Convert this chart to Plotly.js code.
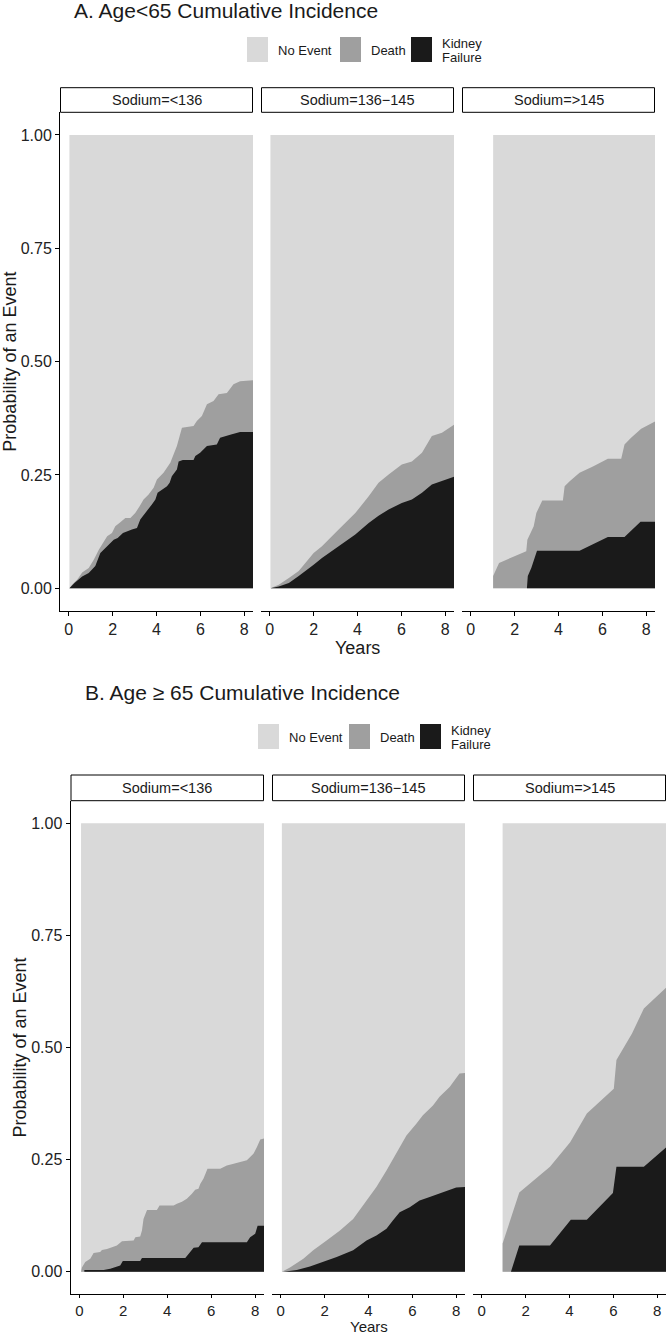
<!DOCTYPE html>
<html>
<head>
<meta charset="utf-8">
<script src="https://cdn.plot.ly/plotly-3.0.1.min.js"></script>
<style>
html,body{margin:0;padding:0;background:#fff;}
#chart{width:666px;height:1334px;}
</style>
</head>
<body>
<div id="chart"></div>
<script>
// ---------- DATA ----------
const figureTitles = ['A. Age<65 Cumulative Incidence', 'B. Age \u2265 65 Cumulative Incidence'];
const sodiumGroups = ['Sodium=<136', 'Sodium=136\u2212145', 'Sodium=>145'];
const eventNames = ['No Event', 'Death', 'Kidney\nFailure'];
const xTickVals = [0, 2, 4, 6, 8];
const yTickVals = [0, 0.25, 0.5, 0.75, 1];
const xAxisTitle = 'Years';
const yAxisTitle = 'Probability of an Event';

// Panel A1: Age<65, Sodium <136  (any event = death + kidney failure, stacked top)
const a1AnyTime = [0.03,0.15,0.38,0.61,0.91,1.14,1.37,1.59,1.75,1.97,2.12,2.35,2.58,2.81,3.03,3.23,3.41,3.64,3.87,4.02,4.32,4.63,4.78,4.93,5.16,5.69,5.84,6.07,6.30,6.60,6.83,7.21,7.51,7.81,8.40];
const a1Any     = [0,0.008,0.019,0.035,0.045,0.063,0.085,0.104,0.115,0.122,0.137,0.146,0.155,0.155,0.166,0.181,0.196,0.207,0.222,0.240,0.255,0.277,0.295,0.314,0.354,0.358,0.369,0.380,0.406,0.413,0.428,0.431,0.450,0.457,0.459];
const a1KfTime  = [0.03,0.26,0.61,0.91,1.21,1.44,1.67,2.05,2.23,2.47,2.88,3.11,3.26,3.57,3.79,3.95,4.05,4.48,4.60,4.70,4.93,5.01,5.20,5.69,5.77,5.99,6.30,6.75,6.90,7.36,7.81,8.40];
const a1Kf      = [0,0.012,0.026,0.034,0.049,0.078,0.089,0.107,0.111,0.122,0.130,0.133,0.152,0.170,0.185,0.196,0.211,0.225,0.233,0.247,0.262,0.280,0.283,0.283,0.292,0.299,0.314,0.317,0.332,0.339,0.345,0.345];

// Panel A2: Age<65, Sodium 136-145
const a2AnyTime = [0.03,0.41,0.87,1.32,2.00,2.38,3.14,3.90,4.51,4.96,5.42,6.02,6.48,6.94,7.39,7.85,8.40];
const a2Any     = [0,0.008,0.023,0.038,0.078,0.093,0.130,0.166,0.203,0.233,0.251,0.273,0.280,0.299,0.336,0.343,0.361];
const a2KfTime  = [0.03,0.41,0.87,1.32,2.00,2.38,3.14,3.90,4.51,4.96,5.42,6.02,6.48,6.94,7.39,7.85,8.40];
const a2Kf      = [0,0.004,0.012,0.027,0.052,0.067,0.093,0.119,0.144,0.160,0.174,0.188,0.196,0.211,0.229,0.236,0.246];

// Panel A3: Age<65, Sodium >145
const a3AnyTime = [1.02,1.02,1.29,2.53,2.58,2.72,2.87,2.99,3.26,4.20,4.28,4.51,4.96,5.57,6.25,6.86,7.01,7.31,7.77,8.40];
const a3Any     = [0,0.027,0.056,0.082,0.107,0.122,0.137,0.166,0.194,0.194,0.225,0.236,0.255,0.269,0.286,0.286,0.317,0.332,0.352,0.368];
const a3KfTime  = [2.56,2.60,2.76,3.02,4.96,6.25,7.01,7.74,8.40];
const a3Kf      = [0,0.027,0.045,0.083,0.083,0.113,0.113,0.147,0.147];

// Panel B1: Age>=65, Sodium <136
const b1AnyTime = [0.08,0.12,0.27,0.50,0.65,0.95,1.03,1.26,1.71,1.94,2.47,2.55,2.77,2.85,2.92,3.08,3.53,3.65,4.29,4.44,4.67,4.89,5.12,5.27,5.42,5.50,5.65,5.83,6.41,6.71,7.02,7.62,7.77,7.92,8.08,8.23,8.40];
const b1Any     = [0,0.010,0.022,0.029,0.042,0.044,0.049,0.051,0.059,0.068,0.070,0.077,0.079,0.092,0.118,0.138,0.138,0.148,0.148,0.152,0.156,0.163,0.174,0.183,0.185,0.196,0.208,0.230,0.230,0.237,0.241,0.249,0.256,0.263,0.278,0.295,0.297];
const b1KfTime  = [0.23,0.23,1.11,1.41,1.86,1.98,2.77,2.85,4.82,5.20,5.42,5.58,7.62,7.77,8.00,8.11,8.40];
const b1Kf      = [0,0.004,0.004,0.007,0.014,0.024,0.024,0.031,0.031,0.054,0.055,0.066,0.066,0.077,0.085,0.103,0.103];

// Panel B2: Age>=65, Sodium 136-145
const b2AnyTime = [0.05,0.42,1.03,1.48,2.09,2.70,3.30,3.76,4.06,4.36,4.82,5.27,5.73,6.18,6.48,6.94,7.24,7.70,8.00,8.15,8.40];
const b2Any     = [0,0.010,0.029,0.048,0.070,0.092,0.118,0.148,0.170,0.189,0.226,0.263,0.304,0.330,0.349,0.371,0.390,0.412,0.431,0.442,0.443];
const b2KfTime  = [0.12,0.73,1.33,1.94,2.55,3.30,3.91,4.36,4.82,5.12,5.42,5.88,6.33,6.79,7.39,8.00,8.40];
const b2Kf      = [0,0.004,0.012,0.022,0.033,0.048,0.070,0.081,0.096,0.115,0.133,0.144,0.159,0.167,0.178,0.188,0.189];

// Panel B3: Age>=65, Sodium >145
const b3AnyTime = [0.95,0.95,1.71,3.11,4.03,4.79,6.02,6.14,6.85,7.39,8.40];
const b3Any     = [0,0.063,0.177,0.234,0.289,0.353,0.408,0.472,0.531,0.587,0.633];
const b3KfTime  = [1.33,1.71,3.11,4.06,4.79,5.98,6.14,7.39,8.40];
const b3Kf      = [0,0.059,0.059,0.116,0.116,0.176,0.234,0.234,0.277];

// ---------- STYLE / GEOMETRY ----------
const W = 666, H = 1334;
const FONT = '"Liberation Sans", Arial, Helvetica, sans-serif';
const colors = ['#d9d9d9', '#9f9f9f', '#1a1a1a'];
const px = p => p / W;
const py = p => 1 - p / H;

const rows = [
  { panels: [[a1AnyTime,a1Any,a1KfTime,a1Kf],[a2AnyTime,a2Any,a2KfTime,a2Kf],[a3AnyTime,a3Any,a3KfTime,a3Kf]],
    xs: [[60,253],[261,454],[462,655]], top: 112.3, bottom: 611, stripTop: 87.7,
    titleX: 72, titleY: 10, legendSq: [247,340,411], legendTop: 37, yTitleX: 10, xTitleY: 648,
    xTickFont: 16, xTickLen: 4, xTitleFont: 18 },
  { panels: [[b1AnyTime,b1Any,b1KfTime,b1Kf],[b2AnyTime,b2Any,b2KfTime,b2Kf],[b3AnyTime,b3Any,b3KfTime,b3Kf]],
    xs: [[70.5,264],[272,465],[473,666]], top: 800.7, bottom: 1294.3, stripTop: 775,
    titleX: 83, titleY: 692.5, legendSq: [258,349,420], legendTop: 724, yTitleX: 19, xTitleY: 1326,
    xTickFont: 15, xTickLen: 3, xTitleFont: 15 }
];

const esc = s => s.replace(/&/g,'&amp;').replace(/</g,'&lt;').replace(/>/g,'&gt;');

const traces = [];
const layout = {
  width: W, height: H,
  margin: {l:0, r:0, t:0, b:0},
  paper_bgcolor: '#fff', plot_bgcolor: '#fff',
  showlegend: false,
  font: {family: FONT, color: '#1a1a1a'},
  shapes: [], annotations: []
};

let idx = 0;
rows.forEach((row, r) => {
  row.panels.forEach((p, c) => {
    idx++;
    const sfx = idx === 1 ? '' : String(idx);
    const xa = 'x' + sfx, ya = 'y' + sfx;
    const [anyT, anyV, kfT, kfV] = p;
    const common = {xaxis: xa, yaxis: ya, mode: 'lines', line: {width: 0}, hoverinfo: 'skip', fill: 'tozeroy'};
    traces.push(Object.assign({}, common, {x: [anyT[0], anyT[anyT.length-1]], y: [1, 1], fillcolor: colors[0], name: eventNames[0]}));
    traces.push(Object.assign({}, common, {x: anyT, y: anyV, fillcolor: colors[1], name: eventNames[1]}));
    traces.push(Object.assign({}, common, {x: kfT, y: kfV, fillcolor: colors[2], name: eventNames[2]}));

    const first = c === 0;
    layout['xaxis' + sfx] = {
      domain: [px(row.xs[c][0]), px(row.xs[c][1])], anchor: ya,
      range: [-0.4, 8.4], showgrid: false, zeroline: false,
      showline: true, linecolor: '#000', linewidth: 1,
      ticks: 'outside', ticklen: row.xTickLen, tickwidth: 1, tickcolor: '#000',
      tickvals: xTickVals, tickfont: {family: FONT, size: row.xTickFont, color: '#222'}, fixedrange: true
    };
    layout['yaxis' + sfx] = {
      domain: [py(row.bottom), py(row.top)], anchor: xa,
      range: [-0.05, 1.05], showgrid: false, zeroline: false,
      showline: first, linecolor: '#000', linewidth: 1,
      ticks: first ? 'outside' : '', ticklen: 4, tickwidth: 1, tickcolor: '#000',
      showticklabels: first, tickvals: yTickVals, tickformat: '.2f',
      tickfont: {family: FONT, size: 16, color: '#222'}, fixedrange: true
    };
    // strip
    layout.shapes.push({type: 'rect', xref: 'paper', yref: 'paper',
      x0: px(row.xs[c][0] + 0.5), x1: px(row.xs[c][1] - 0.5), y0: py(row.top), y1: py(row.stripTop),
      line: {color: '#000', width: 1}, fillcolor: '#fff', layer: 'above'});
    layout.annotations.push({xref: 'paper', yref: 'paper', x: px((row.xs[c][0] + row.xs[c][1]) / 2),
      y: py((row.top + row.stripTop) / 2), xanchor: 'center', yanchor: 'middle', showarrow: false,
      text: esc(sodiumGroups[c]), font: {family: FONT, size: 14.5, color: '#1a1a1a'}});
  });

  // figure title
  layout.annotations.push({xref: 'paper', yref: 'paper', x: px(row.titleX), y: py(row.titleY),
    xanchor: 'left', yanchor: 'middle', showarrow: false, text: esc(figureTitles[r]),
    font: {family: FONT, size: 21, color: '#1a1a1a'}});

  // legend
  eventNames.forEach((name, k) => {
    const x0 = row.legendSq[k];
    layout.shapes.push({type: 'rect', xref: 'paper', yref: 'paper',
      x0: px(x0), x1: px(x0 + 21), y0: py(row.legendTop + 25), y1: py(row.legendTop),
      line: {width: 0}, fillcolor: colors[k]});
    const lines = name.split('\n');
    const cy = row.legendTop + 12.5 + 1;
    lines.forEach((ln, j) => {
      const yy = cy + (j - (lines.length - 1) / 2) * 13.5;
      layout.annotations.push({xref: 'paper', yref: 'paper', x: px(x0 + 29), y: py(yy),
        xanchor: 'left', yanchor: 'middle', showarrow: false, text: esc(ln),
        font: {family: FONT, size: 13, color: '#1a1a1a'}});
    });
  });

  // axis titles
  layout.annotations.push({xref: 'paper', yref: 'paper', x: px(row.yTitleX), y: py((row.top + row.bottom) / 2),
    xanchor: 'center', yanchor: 'middle', showarrow: false, textangle: -90, text: esc(yAxisTitle),
    font: {family: FONT, size: 18, color: '#1a1a1a'}});
  layout.annotations.push({xref: 'paper', yref: 'paper', x: px((row.xs[1][0] + row.xs[1][1]) / 2), y: py(row.xTitleY),
    xanchor: 'center', yanchor: 'middle', showarrow: false, text: esc(xAxisTitle),
    font: {family: FONT, size: row.xTitleFont, color: '#1a1a1a'}});
});

Plotly.newPlot('chart', traces, layout, {staticPlot: true, displayModeBar: false});
</script>
</body>
</html>
